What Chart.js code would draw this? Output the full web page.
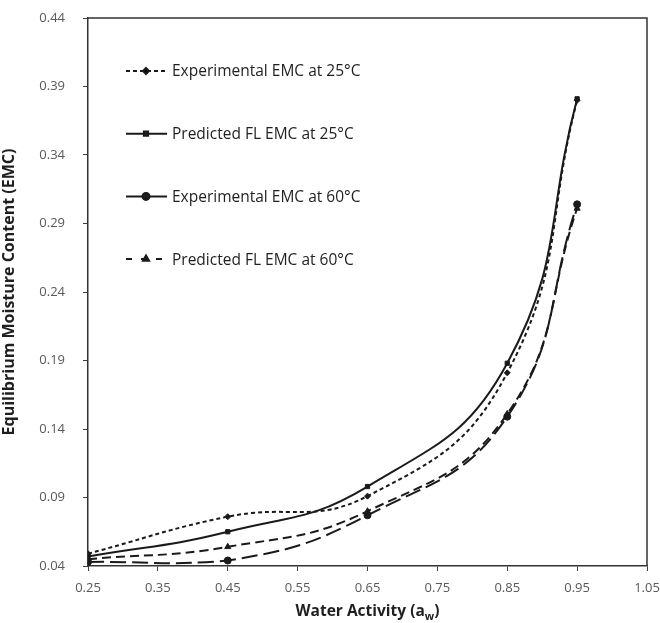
<!DOCTYPE html>
<html>
<head>
<meta charset="utf-8">
<script src="https://cdn.jsdelivr.net/npm/chart.js@4.4.1/dist/chart.umd.min.js"></script>
<style>
  html, body { margin: 0; padding: 0; background: #fff; }
  #wrap { width: 660px; height: 623px; }
</style>
</head>
<body>
<div id="wrap"><canvas id="emcChart" width="660" height="623"></canvas></div>
<script>
// water activity (x) and EMC values
const waterActivity = [0.25, 0.45, 0.65, 0.85, 0.95];
const expEmc25 = [0.049, 0.076, 0.091, 0.181, 0.380];
const predEmc25 = [0.047, 0.065, 0.098, 0.188, 0.381];
const expEmc60 = [0.043, 0.044, 0.077, 0.149, 0.304];
const predEmc60 = [0.045, 0.054, 0.080, 0.151, 0.301];
const seriesNames = [
    'Experimental EMC at 25°C',
    'Predicted FL EMC at 25°C',
    'Experimental EMC at 60°C',
    'Predicted FL EMC at 60°C'
];

const pts = arr => waterActivity.map((x, i) => ({ x: x, y: arr[i] }));
const ink = '#1a1a1a';

function makeSet(label, values, dash, marker, radius, legendDash) {
    return {
        label: label,
        data: pts(values),
        borderColor: ink,
        backgroundColor: ink,
        borderWidth: 2,
        borderDash: dash,
        pointStyle: marker,
        pointRadius: radius,
        pointBorderWidth: 1,
        tension: 0.45,
        fill: false,
        legendDash: legendDash
    };
}

// legend drawn inside the plot + frame + x title with subscript
const extras = {
    id: 'extras',
    afterDraw(chart) {
        const ctx = chart.ctx;
        const a = chart.chartArea;
        ctx.save();
        ctx.strokeStyle = '#333';
        ctx.lineWidth = 1.5;
        ctx.beginPath();
        ctx.moveTo(a.left, a.top);
        ctx.lineTo(a.right, a.top);
        ctx.lineTo(a.right, a.bottom);
        ctx.stroke();

        chart.data.datasets.forEach((ds, i) => {
            const y = 71 + i * 62.7;
            ctx.strokeStyle = ink;
            ctx.lineWidth = 2;
            ctx.setLineDash(ds.legendDash);
            ctx.beginPath();
            ctx.moveTo(126, y);
            ctx.lineTo(167, y);
            ctx.stroke();
            ctx.setLineDash([]);
            Chart.helpers.drawPoint(ctx, {
                pointStyle: ds.pointStyle, radius: ds.pointRadius, rotation: 0, borderWidth: 1
            }, 146, y);
            ctx.fillStyle = '#1f1f1f';
            ctx.font = '15.5px "Open Sans"';
            ctx.textAlign = 'left';
            ctx.textBaseline = 'middle';
            ctx.fillText(ds.label, 172, y + 1);
        });

        // x axis title
        const main = 'Water Activity (a';
        ctx.font = 'bold 15.5px "Open Sans"';
        const w1 = ctx.measureText(main).width;
        ctx.font = 'bold 11px "Open Sans"';
        const w2 = ctx.measureText('w').width;
        ctx.font = 'bold 15.5px "Open Sans"';
        const w3 = ctx.measureText(')').width;
        const cx = (a.left + a.right) / 2;
        let x = cx - (w1 + w2 + w3) / 2;
        const ty = 612;
        ctx.fillStyle = '#1f1f1f';
        ctx.textAlign = 'left';
        ctx.textBaseline = 'middle';
        ctx.fillText(main, x, ty);
        x += w1;
        ctx.font = 'bold 11px "Open Sans"';
        ctx.fillText('w', x, ty + 5);
        x += w2;
        ctx.font = 'bold 15.5px "Open Sans"';
        ctx.fillText(')', x, ty);
        ctx.restore();
    }
};

const ctx = document.getElementById('emcChart').getContext('2d');
new Chart(ctx, {
    type: 'line',
    data: {
        datasets: [
            makeSet(seriesNames[0], expEmc25, [4, 3], 'rectRot', 3, [4, 3]),
            makeSet(seriesNames[1], predEmc25, [], 'rect', 3, []),
            makeSet(seriesNames[2], expEmc60, [16, 6], 'circle', 3.5, []),
            makeSet(seriesNames[3], predEmc60, [9, 5], 'triangle', 3.5, [6, 9])
        ]
    },
    options: {
        responsive: false,
        animation: false,
        layout: { padding: { left: 0, right: 13, top: 18, bottom: 0 } },
        plugins: {
            legend: { display: false },
            tooltip: { enabled: false }
        },
        scales: {
            x: {
                type: 'linear',
                min: 0.25,
                max: 1.05,
                afterFit: s => {
                    s.height = 57;
                    s.paddingLeft = 0;
                    s.paddingRight = 0;
                },
                ticks: {
                    stepSize: 0.1,
                    padding: 9,
                    color: '#595959',
                    font: { family: 'Open Sans', size: 13 },
                    callback: v => v.toFixed(2)
                },
                grid: { drawOnChartArea: false, tickLength: 5, color: '#404040' },
                border: { color: '#333', width: 1.5 }
            },
            y: {
                min: 0.04,
                max: 0.44,
                afterFit: s => {
                    s.width = 88;
                    s.paddingTop = 0;
                    s.paddingBottom = 0;
                },
                ticks: {
                    stepSize: 0.05,
                    padding: 18,
                    color: '#595959',
                    font: { family: 'Open Sans', size: 13 },
                    callback: v => v.toFixed(2)
                },
                grid: { drawOnChartArea: false, tickLength: 5, color: '#404040' },
                border: { color: '#333', width: 1.5 },
                title: {
                    display: true,
                    text: 'Equilibrium Moisture Content (EMC)',
                    color: '#1f1f1f',
                    font: { family: 'Open Sans', size: 16, weight: 'bold' },
                    padding: { top: 0, bottom: 0 }
                }
            }
        }
    },
    plugins: [extras]
});
</script>
</body>
</html>
